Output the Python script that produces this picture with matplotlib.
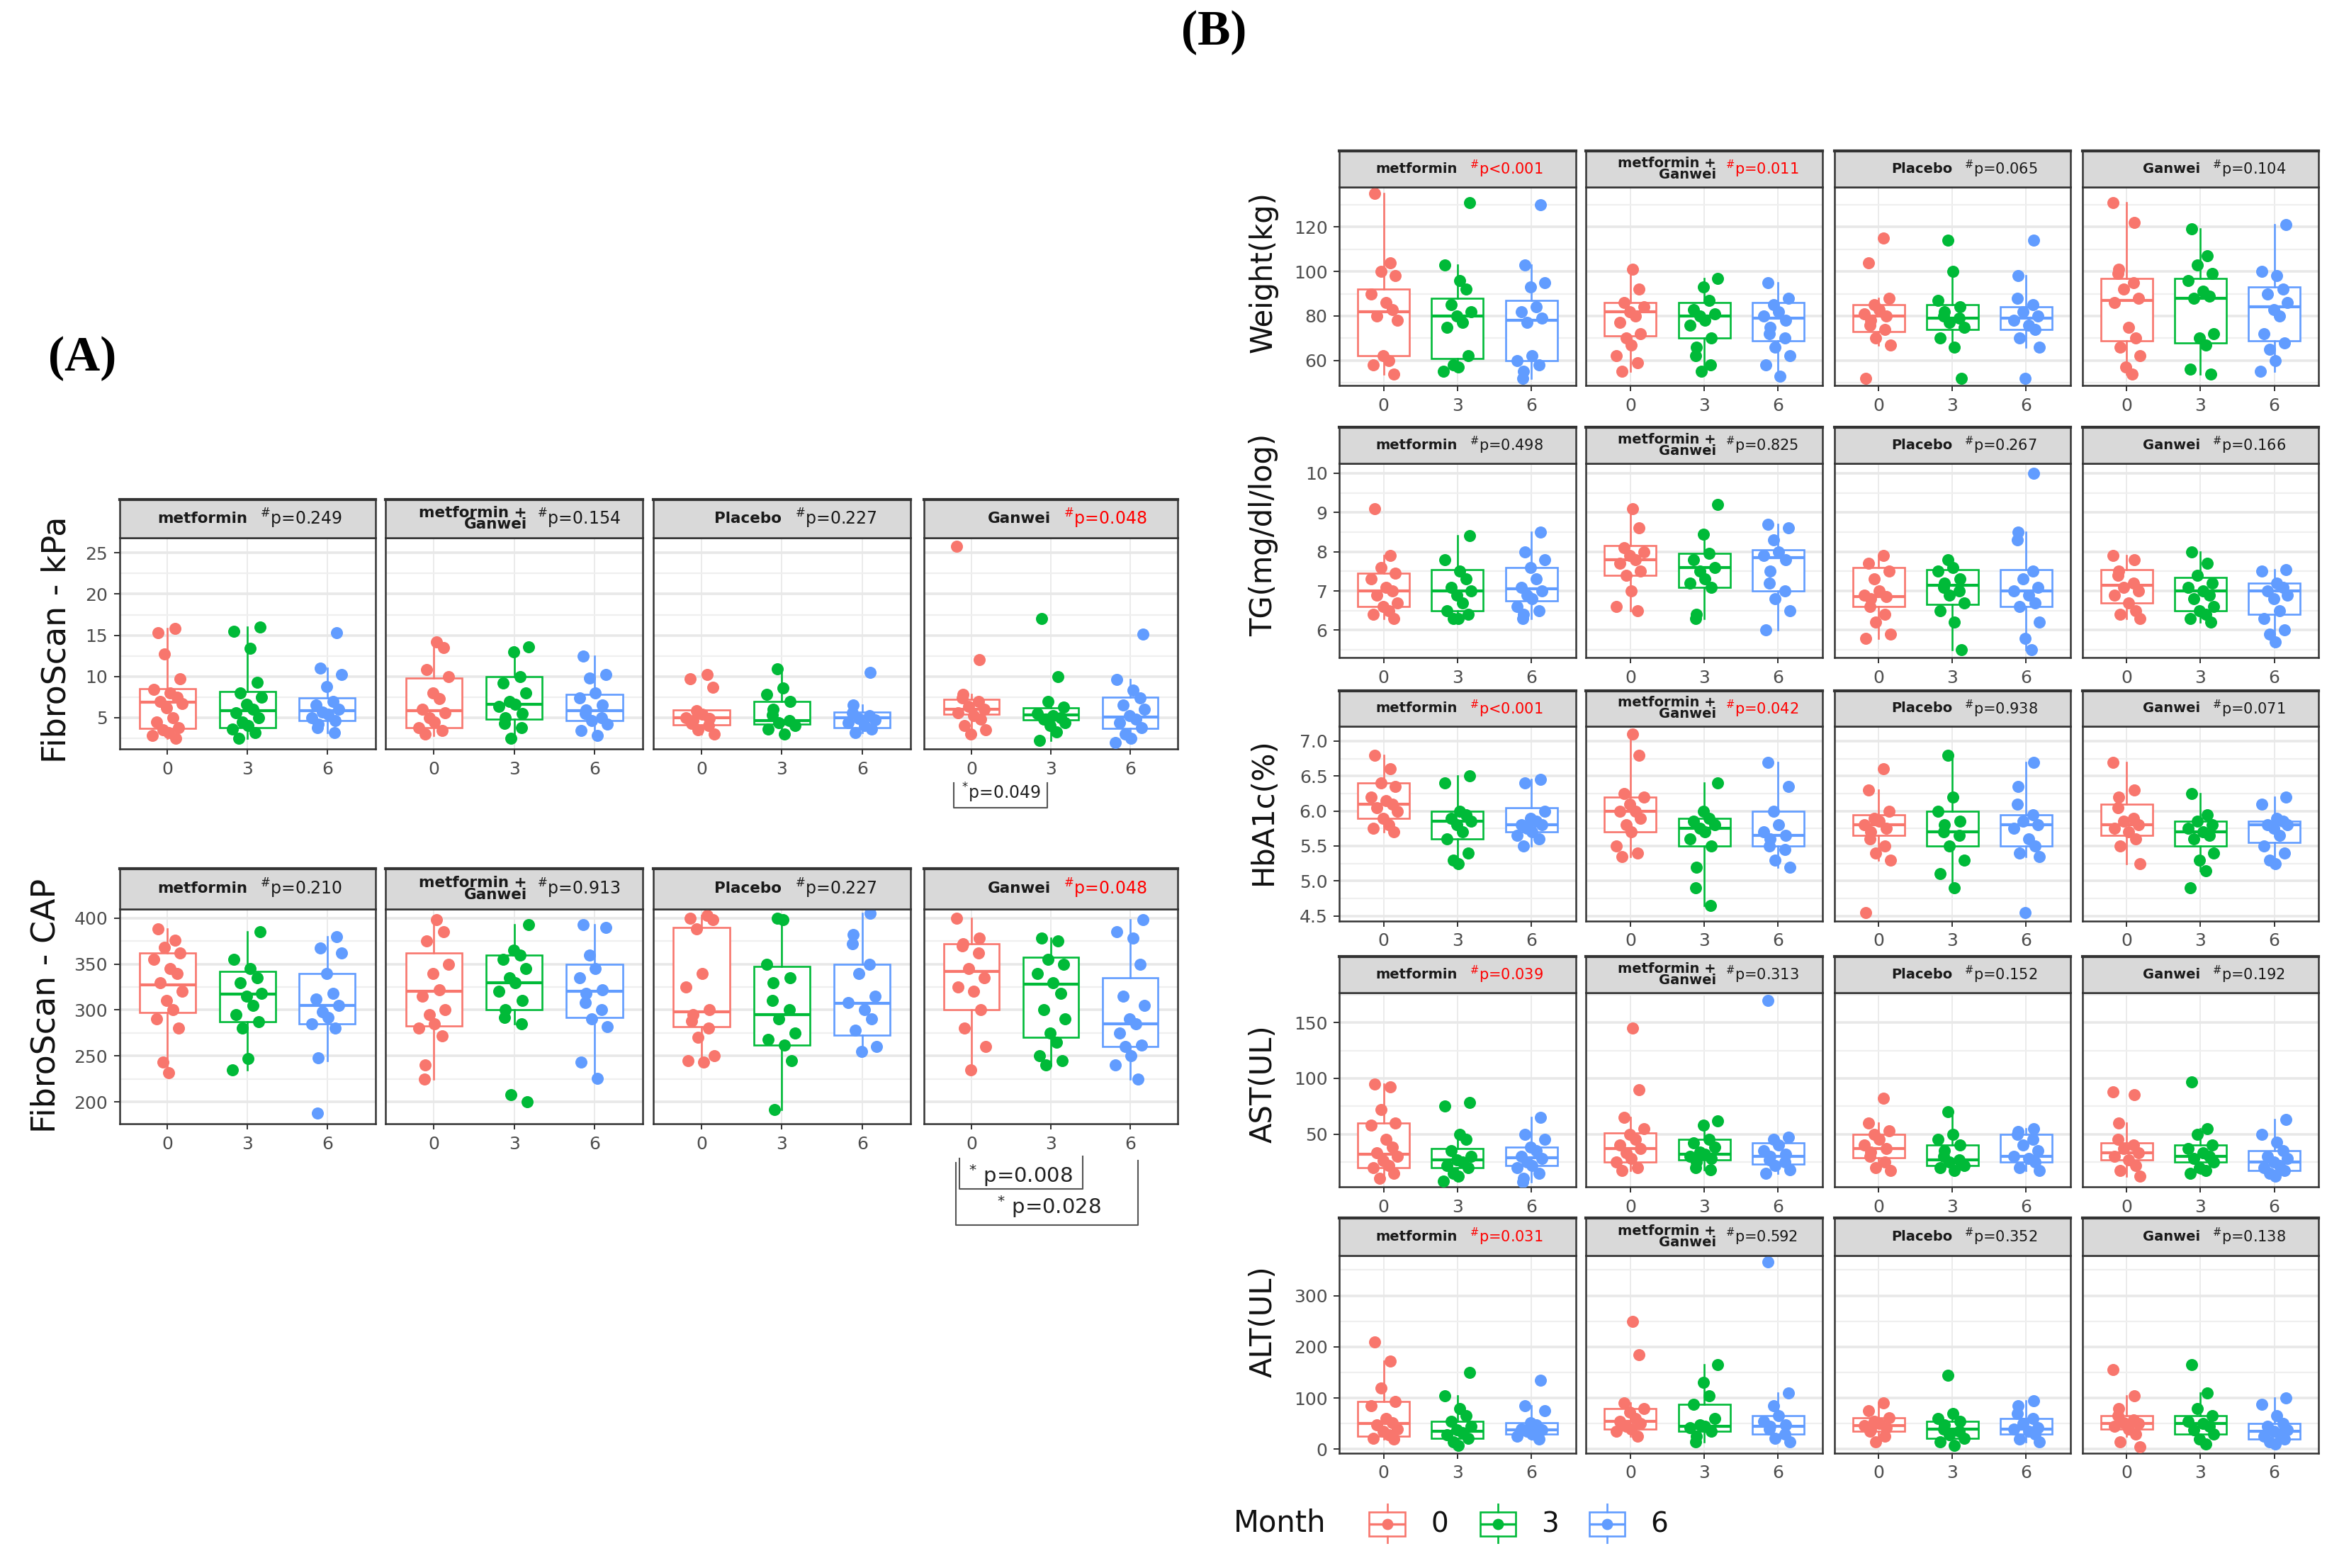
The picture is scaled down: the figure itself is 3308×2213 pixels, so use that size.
import matplotlib.pyplot as plt

plt.rcParams['font.family'] = ['DejaVu Sans']

# ---------------- data ----------------
groups = ['metformin', 'metformin +\nGanwei', 'Placebo', 'Ganwei']
months = ['0', '3', '6']
month_colors = ['#F8766D', '#00BA38', '#619CFF']

# FibroScan - kPa  (points and box stats: whislo, q1, median, q3, whishi)
kpa_pvals = ['p=0.249', 'p=0.154', 'p=0.227', 'p=0.048']
kpa_sig = [False, False, False, True]
kpa_points = [
    [[15.3, 15.8, 12.7, 9.7, 8.4, 8.0, 7.5, 7.0, 6.7, 6.2, 5.0, 4.5, 3.8, 3.5, 3.2, 2.8, 2.5],
     [16.0, 15.5, 13.4, 9.3, 8.0, 7.5, 6.6, 6.0, 5.6, 5.0, 4.5, 4.0, 3.6, 3.2, 2.5],
     [15.3, 11.0, 10.2, 8.8, 7.0, 6.5, 6.0, 5.7, 5.4, 5.0, 4.6, 4.2, 3.8, 3.2]],
    [[14.2, 13.5, 10.8, 10.0, 8.0, 7.3, 6.0, 5.6, 5.0, 4.5, 3.8, 3.4, 3.0],
     [13.6, 13.0, 10.0, 9.2, 8.0, 7.0, 6.6, 6.4, 5.5, 5.0, 4.3, 3.8, 2.5],
     [12.5, 10.2, 9.8, 8.0, 7.4, 6.5, 5.9, 5.5, 5.0, 4.6, 4.2, 3.4, 2.8]],
    [[10.2, 9.7, 8.7, 5.8, 5.4, 5.0, 4.9, 4.6, 4.3, 4.0, 3.5, 3.0],
     [10.9, 8.6, 7.8, 7.0, 6.0, 5.3, 4.6, 4.4, 4.0, 3.6, 3.0],
     [10.5, 6.5, 5.6, 5.2, 4.9, 4.7, 4.4, 4.0, 3.6, 3.2]],
    [[25.8, 12.0, 7.8, 7.4, 7.0, 6.4, 6.0, 5.6, 5.2, 4.8, 4.0, 3.5, 3.0],
     [17.0, 10.0, 7.0, 6.3, 5.5, 5.2, 5.0, 4.8, 4.4, 4.0, 3.3, 2.2],
     [15.1, 9.6, 8.3, 7.4, 6.5, 6.0, 5.2, 4.8, 4.4, 3.8, 3.0, 2.5, 2.0]],
]
kpa_boxes = [
    [(2.5, 3.7, 6.9, 8.5, 15.8), (2.5, 3.8, 5.8, 8.2, 16.0), (3.2, 4.6, 5.8, 7.4, 11.0)],
    [(2.8, 3.8, 5.8, 9.8, 14.2), (2.5, 4.8, 6.6, 10.0, 13.6), (2.8, 4.6, 5.8, 7.8, 12.5)],
    [(3.0, 4.1, 5.0, 5.9, 5.9), (3.0, 4.2, 4.6, 7.0, 10.9), (3.2, 3.8, 5.0, 5.7, 6.5)],
    [(3.0, 5.4, 6.0, 7.2, 7.8), (2.2, 4.7, 5.3, 6.2, 7.0), (2.0, 3.7, 5.1, 7.5, 9.6)],
]

# FibroScan - CAP
cap_pvals = ['p=0.210', 'p=0.913', 'p=0.227', 'p=0.048']
cap_sig = [False, False, False, True]
cap_points = [
    [[388, 376, 368, 362, 355, 345, 340, 330, 320, 310, 300, 290, 280, 243, 232],
     [385, 355, 345, 335, 330, 318, 315, 305, 295, 287, 280, 247, 235],
     [380, 367, 362, 340, 318, 312, 305, 298, 292, 285, 280, 248, 188]],
    [[398, 385, 375, 350, 340, 322, 315, 300, 295, 285, 280, 272, 240, 225],
     [393, 365, 360, 355, 345, 335, 330, 320, 310, 300, 292, 285, 208, 200],
     [393, 390, 360, 345, 335, 322, 318, 308, 300, 290, 282, 243, 226]],
    [[403, 400, 398, 388, 340, 325, 300, 295, 288, 280, 270, 250, 245, 243],
     [400, 398, 350, 335, 330, 310, 300, 290, 275, 268, 262, 245, 192],
     [405, 382, 372, 350, 340, 315, 308, 300, 290, 278, 260, 255]],
    [[400, 378, 372, 370, 362, 345, 335, 325, 320, 300, 280, 260, 235],
     [378, 375, 355, 350, 340, 330, 318, 300, 290, 275, 265, 250, 245, 240],
     [398, 385, 378, 350, 315, 305, 290, 285, 275, 262, 260, 250, 240, 225]],
]
cap_boxes = [
    [(232, 297, 327, 362, 388), (235, 287, 317, 342, 385), (245, 285, 305, 340, 380)],
    [(225, 283, 320, 362, 398), (285, 300, 330, 360, 393), (226, 292, 320, 350, 393)],
    [(243, 282, 298, 390, 403), (192, 262, 295, 347, 400), (250, 273, 307, 350, 405)],
    [(235, 300, 342, 372, 400), (240, 270, 328, 357, 378), (225, 260, 285, 335, 398)],
]

# Weight(kg)
weight_pvals = ['p<0.001', 'p=0.011', 'p=0.065', 'p=0.104']
weight_sig = [True, True, False, False]
weight_points = [
    [[135, 104, 100, 98, 90, 86, 83, 80, 78, 62, 60, 58, 54],
     [131, 103, 96, 92, 85, 82, 80, 77, 75, 62, 58, 57, 55],
     [130, 103, 95, 93, 84, 82, 79, 77, 62, 60, 58, 55, 52]],
    [[101, 92, 86, 84, 82, 80, 77, 72, 70, 67, 62, 59, 55],
     [97, 93, 87, 83, 81, 80, 78, 76, 70, 66, 62, 58, 55],
     [95, 88, 85, 82, 80, 78, 75, 72, 70, 66, 62, 58, 53]],
    [[115, 104, 88, 85, 83, 81, 80, 78, 76, 74, 70, 67, 52],
     [114, 100, 87, 84, 82, 80, 79, 77, 75, 70, 66, 52],
     [114, 98, 88, 85, 82, 80, 78, 76, 74, 70, 66, 52]],
    [[131, 122, 101, 99, 95, 92, 88, 86, 75, 70, 66, 62, 57, 54],
     [119, 107, 103, 99, 96, 91, 89, 88, 72, 70, 67, 56, 54],
     [121, 100, 98, 92, 90, 86, 83, 80, 72, 68, 65, 60, 55]],
]
weight_boxes = [
    [(54, 62, 82, 92, 135), (55, 61, 80, 88, 103), (52, 60, 78, 87, 103)],
    [(55, 71, 82, 86, 101), (55, 70, 80, 86, 97), (53, 69, 79, 86, 95)],
    [(67, 73, 80, 85, 88), (66, 74, 79, 85, 100), (66, 74, 79, 84, 98)],
    [(54, 69, 87, 97, 131), (54, 68, 88, 97, 119), (55, 69, 84, 93, 121)],
]

# TG(mg/dl/log)
tg_pvals = ['p=0.498', 'p=0.825', 'p=0.267', 'p=0.166']
tg_sig = [False, False, False, False]
tg_points = [
    [[9.1, 7.9, 7.6, 7.45, 7.3, 7.1, 7.0, 6.9, 6.7, 6.6, 6.5, 6.4, 6.3],
     [8.4, 7.8, 7.5, 7.3, 7.1, 7.0, 6.9, 6.7, 6.5, 6.4, 6.3, 6.3],
     [8.5, 8.0, 7.8, 7.6, 7.3, 7.1, 7.0, 6.9, 6.8, 6.6, 6.5, 6.4, 6.3]],
    [[9.1, 8.6, 8.1, 8.0, 7.9, 7.8, 7.7, 7.5, 7.4, 7.0, 6.6, 6.5],
     [9.2, 8.45, 7.95, 7.8, 7.6, 7.5, 7.3, 7.2, 7.1, 6.4, 6.3],
     [8.7, 8.6, 8.3, 8.0, 7.9, 7.8, 7.5, 7.2, 7.0, 6.8, 6.5, 6.0]],
    [[7.9, 7.7, 7.5, 7.3, 7.0, 6.9, 6.85, 6.8, 6.6, 6.4, 6.2, 5.9, 5.8],
     [7.8, 7.6, 7.5, 7.3, 7.2, 7.1, 7.0, 6.9, 6.7, 6.5, 6.2, 5.5],
     [10.0, 8.5, 8.3, 7.5, 7.3, 7.1, 7.0, 6.9, 6.7, 6.6, 6.2, 5.8, 5.5]],
    [[7.9, 7.8, 7.5, 7.4, 7.2, 7.1, 7.0, 6.9, 6.7, 6.5, 6.4, 6.3],
     [8.0, 7.7, 7.4, 7.2, 7.1, 7.0, 6.9, 6.8, 6.6, 6.5, 6.4, 6.3, 6.2],
     [7.55, 7.5, 7.2, 7.1, 7.0, 6.9, 6.8, 6.5, 6.3, 6.0, 5.9, 5.7]],
]
tg_boxes = [
    [(6.3, 6.6, 7.0, 7.45, 7.9), (6.3, 6.5, 7.0, 7.55, 8.4), (6.3, 6.75, 7.05, 7.6, 8.5)],
    [(6.5, 7.4, 7.8, 8.15, 9.1), (6.3, 7.1, 7.6, 7.95, 8.45), (6.0, 7.0, 7.85, 8.05, 8.7)],
    [(5.8, 6.6, 6.85, 7.6, 7.9), (5.5, 6.65, 7.15, 7.55, 7.8), (5.5, 6.6, 7.0, 7.55, 8.5)],
    [(6.3, 6.7, 7.15, 7.55, 7.9), (6.2, 6.5, 7.0, 7.35, 8.0), (5.7, 6.4, 7.0, 7.2, 7.55)],
]

# HbA1c(%)
hba1c_pvals = ['p<0.001', 'p=0.042', 'p=0.938', 'p=0.071']
hba1c_sig = [True, True, False, False]
hba1c_points = [
    [[6.8, 6.6, 6.4, 6.35, 6.2, 6.15, 6.1, 6.05, 6.0, 5.9, 5.8, 5.75, 5.7],
     [6.5, 6.4, 6.0, 5.95, 5.9, 5.85, 5.8, 5.7, 5.6, 5.4, 5.3, 5.25],
     [6.45, 6.4, 6.0, 5.9, 5.85, 5.8, 5.8, 5.75, 5.7, 5.65, 5.6, 5.5]],
    [[7.1, 6.8, 6.25, 6.2, 6.1, 6.0, 6.0, 5.9, 5.8, 5.7, 5.5, 5.4, 5.35],
     [6.4, 6.0, 5.9, 5.85, 5.8, 5.75, 5.7, 5.6, 5.5, 5.2, 4.9, 4.65],
     [6.7, 6.35, 6.0, 5.8, 5.7, 5.65, 5.6, 5.5, 5.45, 5.3, 5.2]],
    [[6.6, 6.3, 6.0, 5.9, 5.85, 5.8, 5.75, 5.7, 5.6, 5.5, 5.4, 5.3, 4.55],
     [6.8, 6.2, 6.0, 5.85, 5.8, 5.7, 5.65, 5.5, 5.3, 5.1, 4.9],
     [6.7, 6.35, 6.1, 5.95, 5.85, 5.8, 5.75, 5.6, 5.5, 5.4, 5.35, 4.55]],
    [[6.7, 6.3, 6.2, 6.05, 5.9, 5.85, 5.8, 5.75, 5.7, 5.6, 5.5, 5.25],
     [6.25, 5.95, 5.85, 5.8, 5.75, 5.7, 5.65, 5.6, 5.4, 5.3, 5.15, 4.9],
     [6.2, 6.1, 5.9, 5.85, 5.8, 5.8, 5.75, 5.65, 5.5, 5.4, 5.3, 5.25]],
]
hba1c_boxes = [
    [(5.7, 5.9, 6.1, 6.4, 6.8), (5.25, 5.6, 5.85, 6.0, 6.5), (5.5, 5.7, 5.8, 6.05, 6.45)],
    [(5.35, 5.7, 6.0, 6.2, 7.1), (4.65, 5.5, 5.75, 5.9, 6.4), (5.2, 5.5, 5.65, 6.0, 6.7)],
    [(5.3, 5.65, 5.8, 5.95, 6.3), (4.9, 5.5, 5.7, 6.0, 6.8), (5.35, 5.5, 5.8, 5.95, 6.7)],
    [(5.25, 5.65, 5.8, 6.1, 6.7), (5.15, 5.5, 5.7, 5.85, 6.25), (5.25, 5.55, 5.8, 5.85, 6.2)],
]

# AST(UL)
ast_pvals = ['p=0.039', 'p=0.313', 'p=0.152', 'p=0.192']
ast_sig = [True, False, False, False]
ast_points = [
    [[95, 92, 72, 60, 58, 45, 38, 33, 30, 26, 22, 20, 15, 10],
     [78, 75, 50, 45, 35, 30, 27, 25, 22, 20, 15, 12, 8],
     [65, 50, 45, 38, 35, 30, 28, 25, 22, 20, 15, 10, 7]],
    [[145, 90, 65, 55, 50, 45, 40, 37, 33, 28, 25, 20, 17],
     [62, 58, 45, 42, 38, 34, 32, 30, 28, 25, 20, 18],
     [170, 47, 45, 40, 35, 32, 30, 27, 25, 22, 18, 15]],
    [[82, 60, 53, 50, 45, 40, 37, 34, 30, 25, 20, 17],
     [70, 50, 45, 40, 35, 30, 27, 25, 22, 20, 17],
     [55, 52, 50, 45, 40, 35, 30, 28, 25, 20, 17]],
    [[88, 85, 60, 45, 40, 37, 33, 30, 27, 22, 17, 12],
     [97, 55, 50, 40, 37, 33, 30, 28, 25, 20, 17, 15],
     [63, 50, 43, 35, 30, 28, 25, 22, 20, 17, 15, 12]],
]
ast_boxes = [
    [(10, 20, 32, 60, 95), (8, 20, 27, 37, 50), (7, 22, 29, 38, 65)],
    [(17, 25, 37, 51, 65), (18, 27, 32, 45, 62), (15, 23, 30, 42, 47)],
    [(17, 29, 37, 50, 60), (17, 22, 27, 40, 70), (17, 25, 30, 50, 55)],
    [(12, 27, 33, 42, 60), (15, 25, 30, 40, 55), (12, 17, 25, 35, 63)],
]

# ALT(UL)
alt_pvals = ['p=0.031', 'p=0.592', 'p=0.352', 'p=0.138']
alt_sig = [True, False, False, False]
alt_points = [
    [[210, 172, 120, 93, 85, 60, 52, 48, 40, 35, 28, 22, 20],
     [150, 105, 80, 65, 55, 45, 38, 33, 28, 22, 15, 8],
     [135, 85, 75, 52, 48, 40, 38, 35, 30, 25, 20]],
    [[250, 185, 90, 80, 72, 60, 55, 50, 45, 40, 35, 25],
     [165, 130, 105, 88, 60, 48, 45, 42, 35, 25, 15],
     [365, 110, 85, 65, 55, 48, 45, 40, 30, 22, 15]],
    [[90, 75, 62, 55, 50, 47, 42, 38, 35, 25, 15],
     [145, 70, 60, 55, 48, 40, 35, 28, 22, 15, 8],
     [95, 85, 70, 60, 50, 42, 40, 35, 30, 20, 15]],
    [[155, 105, 80, 65, 58, 52, 50, 45, 40, 30, 15, 5],
     [165, 110, 80, 65, 55, 50, 45, 38, 30, 20, 10],
     [100, 88, 65, 50, 45, 38, 35, 30, 25, 20, 15, 10]],
]
alt_boxes = [
    [(20, 25, 50, 93, 172), (8, 22, 35, 55, 105), (20, 30, 38, 52, 85)],
    [(25, 40, 55, 80, 90), (15, 35, 45, 88, 165), (15, 30, 45, 65, 110)],
    [(15, 35, 47, 62, 90), (8, 22, 40, 55, 70), (15, 30, 40, 60, 95)],
    [(25, 40, 50, 65, 105), (10, 30, 50, 65, 110), (10, 20, 35, 50, 100)],
]

# ---------------- layout ----------------
W, H = 1568, 1049   # reference layout units


def frac(x0, x1, y0, y1):
    return [x0 / W, 1 - y1 / H, (x1 - x0) / W, (y1 - y0) / H]


jitter = [-0.12, 0.09, -0.04, 0.16, -0.17, 0.03, 0.12, -0.09, 0.18,
          -0.01, 0.07, -0.14, 0.14, -0.06, 0.01, -0.19, 0.10, -0.11]

fig = plt.figure(figsize=(33.08, 22.13), dpi=100)
fig.patch.set_facecolor('white')

A_cols = [(80, 251), (258, 430), (437, 609), (618, 788)]
B_cols = [(896, 1054), (1061, 1219), (1227, 1385), (1393, 1551)]


def draw_row(cols, rowy, pts, boxes, pvals, sig, ylim, yticks, yticklabels,
             name_fs, p_fs):
    strip_top, strip_bot, plot_bot = rowy
    axes = []
    for g, (x0, x1) in enumerate(cols):
        ax = fig.add_axes(frac(x0, x1, strip_bot, plot_bot))
        sax = fig.add_axes(frac(x0, x1, strip_top, strip_bot))

        for m in range(3):
            c = month_colors[m]
            lo, q1, med, q3, hi = boxes[g][m]
            stats = [dict(med=med, q1=q1, q3=q3, whislo=lo, whishi=hi, fliers=[])]
            ax.bxp(stats, positions=[m], widths=0.7, showcaps=False, showfliers=False,
                   patch_artist=True, manage_ticks=False,
                   boxprops=dict(facecolor='white', edgecolor=c, linewidth=1.9),
                   whiskerprops=dict(color=c, linewidth=1.9),
                   medianprops=dict(color=c, linewidth=3.0))
            vals = pts[g][m]
            xs = [m + jitter[(k + 5 * g + 3 * m) % len(jitter)] for k in range(len(vals))]
            ax.scatter(xs, vals, s=150, color=c, linewidths=0, zorder=4)

        ax.set_xlim(-0.6, 2.6)
        ax.set_ylim(*ylim)
        ax.set_xticks([0, 1, 2])
        ax.set_xticklabels(months)
        ax.set_yticks(yticks)
        step = yticks[1] - yticks[0]
        minor = [t - step / 2 for t in yticks] + [yticks[-1] + step / 2]
        ax.set_yticks([v for v in minor if ylim[0] < v < ylim[1]], minor=True)
        ax.yaxis.grid(True, which='major', color='#E8E8E8', linewidth=2.6)
        ax.yaxis.grid(True, which='minor', color='#EFEFEF', linewidth=1.6)
        ax.xaxis.grid(True, which='major', color='#EBEBEB', linewidth=1.4)
        ax.set_axisbelow(True)
        ax.tick_params(which='major', length=6, width=1.4, color='#333333',
                       labelsize=18, labelcolor='#4D4D4D', pad=6)
        ax.tick_params(which='minor', length=0)
        if g == 0:
            ax.set_yticklabels(yticklabels)
        else:
            ax.tick_params(axis='y', left=False, labelleft=False)
        for sp in ax.spines.values():
            sp.set_color('#333333')
            sp.set_linewidth(1.8)

        sax.set_facecolor('#D9D9D9')
        sax.set_xticks([])
        sax.set_yticks([])
        for sp in sax.spines.values():
            sp.set_color('#333333')
            sp.set_linewidth(1.8)
        sax.spines['top'].set_linewidth(3.0)
        name_x, p_x = (0.55, 0.59) if g == 1 else (0.50, 0.55)
        sax.text(name_x, 0.5, groups[g], transform=sax.transAxes, ha='right',
                 va='center', fontsize=name_fs, fontweight='bold', color='#1A1A1A',
                 linespacing=0.8)
        sax.text(p_x, 0.5, r'$^{\#}$' + pvals[g], transform=sax.transAxes,
                 ha='left', va='center', fontsize=p_fs,
                 color='#FF0000' if sig[g] else '#1A1A1A')
        axes.append(ax)
    return axes


def bracket(ax, x0, x1, ytop_l, ytop_r, ybot, label, ytext, xtext, fs):
    tr = ax.get_xaxis_transform()
    ax.plot([x0, x0, x1, x1], [ytop_l, ybot, ybot, ytop_r], color='#555555',
            linewidth=1.5, transform=tr, clip_on=False)
    ax.text(xtext, ytext, r'$^{*}$' + label, transform=tr, ha='center',
            va='center', fontsize=fs, color='#222222')


# ---------------- panel A ----------------
row_kpa = draw_row(A_cols, (334, 360, 501), kpa_points, kpa_boxes, kpa_pvals, kpa_sig,
                   (1.2, 26.8), [5, 10, 15, 20, 25], ['5', '10', '15', '20', '25'], 15.5, 17)
row_cap = draw_row(A_cols, (581, 608, 752), cap_points, cap_boxes, cap_pvals, cap_sig,
                   (176, 410), [200, 250, 300, 350, 400],
                   ['200', '250', '300', '350', '400'], 15.5, 17)

bracket(row_kpa[3], -0.22, 0.95, -0.16, -0.16, -0.28, 'p=0.049', -0.21, 0.37, 17)
bracket(row_cap[3], -0.15, 1.40, -0.16, -0.15, -0.30, ' p=0.008', -0.24, 0.62, 21)
bracket(row_cap[3], -0.20, 2.10, -0.18, -0.17, -0.47, ' p=0.028', -0.385, 0.98, 21)

fig.text(38 / W, 1 - 428 / H, 'FibroScan - kPa', rotation=90, ha='center',
         va='center', fontsize=33, color='#111111')
fig.text(31 / W, 1 - 673 / H, 'FibroScan - CAP', rotation=90, ha='center',
         va='center', fontsize=33, color='#111111')

# ---------------- panel B ----------------
draw_row(B_cols, (101, 125, 258), weight_points, weight_boxes, weight_pvals, weight_sig,
         (48.7, 138), [60, 80, 100, 120], ['60', '80', '100', '120'], 14, 15)
draw_row(B_cols, (286, 310, 440), tg_points, tg_boxes, tg_pvals, tg_sig,
         (5.3, 10.25), [6, 7, 8, 9, 10], ['6', '7', '8', '9', '10'], 14, 15)
draw_row(B_cols, (462, 486, 616), hba1c_points, hba1c_boxes, hba1c_pvals, hba1c_sig,
         (4.43, 7.21), [4.5, 5.0, 5.5, 6.0, 6.5, 7.0],
         ['4.5', '5.0', '5.5', '6.0', '6.5', '7.0'], 14, 15)
draw_row(B_cols, (640, 664, 794), ast_points, ast_boxes, ast_pvals, ast_sig,
         (2.6, 177), [50, 100, 150], ['50', '100', '150'], 14, 15)
draw_row(B_cols, (815, 840, 972), alt_points, alt_boxes, alt_pvals, alt_sig,
         (-7, 378), [0, 100, 200, 300], ['0', '100', '200', '300'], 14, 15)

b_labels = ['Weight(kg)', 'TG(mg/dl/log)', 'HbA1c(%)', 'AST(UL)', 'ALT(UL)']
b_label_y = [182, 358, 543, 725, 884]
for lab, yc in zip(b_labels, b_label_y):
    fig.text(845 / W, 1 - yc / H, lab, rotation=90, ha='center', va='center',
             fontsize=30, color='#111111')

# ---------------- legend ----------------
fig.text(825 / W, 1 - 1019 / H, 'Month', ha='left', va='center', fontsize=30,
         color='#111111')
key_x = [913, 987, 1060]
for m in range(3):
    c = month_colors[m]
    kax = fig.add_axes(frac(key_x[m], key_x[m] + 30, 1006, 1033))
    kax.set_xlim(0, 1)
    kax.set_ylim(0, 1)
    kax.axis('off')
    kax.bxp([dict(med=0.5, q1=0.2, q3=0.8, whislo=0.0, whishi=1.0, fliers=[])],
            positions=[0.5], widths=0.8, showcaps=False, showfliers=False,
            patch_artist=True, manage_ticks=False,
            boxprops=dict(facecolor='white', edgecolor=c, linewidth=1.9),
            whiskerprops=dict(color=c, linewidth=1.9),
            medianprops=dict(color=c, linewidth=2.4))
    kax.scatter([0.5], [0.5], s=130, color=c, linewidths=0, zorder=4)
    fig.text((key_x[m] + 50) / W, 1 - 1020 / H, months[m], ha='center',
             va='center', fontsize=28, color='#111111')

# ---------------- panel tags ----------------
fig.text(812 / W, 1 - 22 / H, '(B)', ha='center', va='center', fontsize=50,
         fontweight='bold', family=['Liberation Serif', 'DejaVu Serif'])
fig.text(55 / W, 1 - 240 / H, '(A)', ha='center', va='center', fontsize=50,
         fontweight='bold', family=['Liberation Serif', 'DejaVu Serif'])

fig.savefig('out.png', dpi=100, facecolor='white')
